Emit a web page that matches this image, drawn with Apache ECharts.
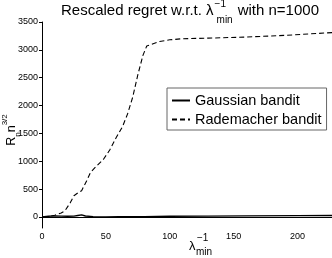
<!DOCTYPE html>
<html>
<head>
<meta charset="UTF-8">
<title>Rescaled regret</title>
<script src="https://cdn.jsdelivr.net/npm/echarts@6/dist/echarts.min.js"></script>
<style>
  html, body { margin: 0; padding: 0; background: #fff; }
  #main { width: 332px; height: 258px; }
</style>
</head>
<body>
<div id="main"></div>
<script>
// values
var gaussX = [0, 5, 10, 15, 20, 25, 28, 31, 34, 40, 50, 60, 80, 100, 130, 160, 200, 227];
var gaussY = [0, 10, 18, 14, 10, 14, 25, 35, 15, 5, 0, 2, 5, 10, 14, 17, 22, 25];

var radeX = [1, 5, 10, 15, 18, 22, 25, 28, 31, 35, 38, 43, 48, 53, 58, 63, 67, 71, 75, 79, 82, 87, 92, 100, 110, 130, 160, 190, 227];
var radeY = [0, 5, 30, 70, 110, 250, 380, 430, 470, 650, 800, 920, 1030, 1200, 1420, 1620, 1850, 2150, 2550, 2900, 3070, 3110, 3150, 3180, 3200, 3210, 3230, 3260, 3310];

var xTicks = [0, 50, 100, 150, 200];
var yTicks = [0, 500, 1000, 1500, 2000, 2500, 3000, 3500];
var seriesNames = ['Gaussian bandit', 'Rademacher bandit'];

function pairs(xs, ys) {
    var out = [];
    for (var i = 0; i < xs.length; i++) out.push([xs[i], ys[i]]);
    return out;
}

var font = '"Liberation Sans", Arial, Helvetica, sans-serif';
var ctx = document.createElement('canvas').getContext('2d');
function textWidth(s, size) {
    ctx.font = size + 'px ' + font;
    return ctx.measureText(s).width;
}

function txt(s, x, y, size) {
    return {
        type: 'text', x: x, y: y, silent: true,
        style: { text: s, font: size + 'px ' + font, fill: '#000', align: 'left', verticalAlign: 'middle' }
    };
}

// title pieces: main text, then lambda with stacked -1 / min
var tSize = 15;
var tHead = 'Rescaled regret w.r.t. \u03bb';
var lamEnd = 61 + textWidth(tHead, tSize);

var myChart = echarts.init(document.getElementById('main'));

var option = {
    animation: false,
    backgroundColor: '#fff',
    grid: { left: 42, right: 0, top: 22, bottom: 30, outerBoundsMode: 'none', containLabel: false },
    legend: {
        orient: 'vertical',
        left: 167, top: 88,
        padding: [5, 5, 3, 4],
        itemWidth: 18, itemHeight: 14, itemGap: 4,
        borderColor: '#666', borderWidth: 1,
        backgroundColor: '#fff',
        itemStyle: { color: 'transparent', borderWidth: 0 },
        textStyle: { fontFamily: font, fontSize: 14.5, color: '#000' },
        data: seriesNames
    },
    xAxis: {
        type: 'value', min: 0, max: 227,
        axisLine: { lineStyle: { color: '#000', width: 1 } },
        axisTick: { show: false },
        axisLabel: { customValues: xTicks, margin: 4, fontFamily: font, fontSize: 9, color: '#000',
            formatter: function (v) { return String(v); } },
        splitLine: { show: false }
    },
    yAxis: {
        type: 'value', min: -200, max: 3500,
        name: '{m|R}{sub|n}{m|n}{sup|3/2}',
        nameLocation: 'middle',
        nameGap: 19,
        nameMoveOverlap: false,
        nameTextStyle: {
            padding: [0, 10, 0, 0],
            rich: {
                m: { fontFamily: font, fontSize: 12.5, color: '#000', lineHeight: 22, verticalAlign: 'middle' },
                sub: { fontFamily: font, fontSize: 8, color: '#000', lineHeight: 9, verticalAlign: 'bottom', padding: [0, 0, 1, 0] },
                sup: { fontFamily: font, fontSize: 8, color: '#000', lineHeight: 9, verticalAlign: 'top' }
            }
        },
        axisLine: { show: true, lineStyle: { color: '#000', width: 1 } },
        axisTick: { show: true, inside: false, length: 3, customValues: yTicks, lineStyle: { color: '#000' } },
        axisLabel: { customValues: yTicks, margin: 4, fontFamily: font, fontSize: 9, color: '#000',
            formatter: function (v) { return String(v); } },
        splitLine: { show: false }
    },
    graphic: [
        // title
        txt(tHead, 61, 11, tSize),
        txt('\u22121', lamEnd + 1, 4, 10),
        txt('min', lamEnd + 3, 20, 10),
        txt('with n=1000', lamEnd + 3 + textWidth('min', 10) + 5, 11, tSize),
        // x axis name
        txt('\u03bb', 189, 246, 13),
        txt('\u22121', 197, 238, 10),
        txt('min', 196, 252, 10)
    ],
    series: [
        {
            name: seriesNames[0], type: 'line', symbol: 'none',
            lineStyle: { color: '#000', width: 1.4, type: 'solid' },
            itemStyle: { color: '#000' },
            data: pairs(gaussX, gaussY)
        },
        {
            name: seriesNames[1], type: 'line', symbol: 'none',
            lineStyle: { color: '#000', width: 1.1, type: [5, 3] },
            itemStyle: { color: '#000' },
            data: pairs(radeX, radeY)
        }
    ]
};

myChart.setOption(option);
</script>
</body>
</html>
